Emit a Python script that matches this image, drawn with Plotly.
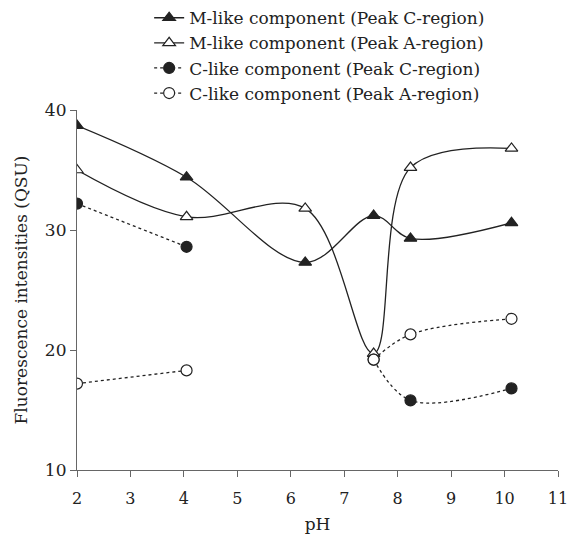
import plotly.graph_objects as go

# pH values of the sampled points
ph = [2.0, 4.05, 6.27, 7.55, 8.24, 10.13]

# Fluorescence intensities (QSU)
m_like_peak_c = [38.7, 34.4, 27.3, 31.2, 29.3, 30.6]
m_like_peak_a = [35.0, 31.1, 31.8, 19.7, 35.2, 36.8]
c_like_peak_c = [32.2, 28.6, None, 19.2, 15.8, 16.8]
c_like_peak_a = [17.2, 18.3, None, 19.2, 21.3, 22.6]

names = [
    "M-like component (Peak C-region)",
    "M-like component (Peak A-region)",
    "C-like component (Peak C-region)",
    "C-like component (Peak A-region)",
]

ink = "#222222"
axis_grey = "#666666"
font_family = "DejaVu Serif"

series = [
    (m_like_peak_c, "triangle-up", ink, "solid"),
    (m_like_peak_a, "triangle-up", "white", "solid"),
    (c_like_peak_c, "circle", ink, "dot"),
    (c_like_peak_a, "circle", "white", "dot"),
]

fig = go.Figure()
for (vals, sym, fill, dash), name in zip(series, names):
    fig.add_trace(go.Scatter(
        x=ph, y=vals, name=name, mode="lines+markers",
        line=dict(color=ink, width=1.3, dash=dash, shape="spline", smoothing=1.0),
        marker=dict(symbol=sym, size=11, color=fill,
                    line=dict(color=ink, width=1.2)),
        connectgaps=False,
    ))

fig.update_layout(
    width=570, height=542,
    margin=dict(l=77, r=12, t=110, b=72, autoexpand=False),
    paper_bgcolor="white", plot_bgcolor="white",
    font=dict(family=font_family, size=17, color=ink),
    showlegend=True,
    legend=dict(
        x=0.15, y=1.305, xanchor="left", yanchor="top",
        bgcolor="rgba(0,0,0,0)", font=dict(family=font_family, size=17),
        tracegroupgap=0, itemwidth=30,
    ),
    xaxis=dict(
        range=[2, 11], tickmode="array", tickvals=list(range(2, 12)),
        showline=True, linecolor=axis_grey, linewidth=1.2,
        ticks="outside", ticklen=6, tickcolor=axis_grey,
        showgrid=False, zeroline=False, automargin=False,
        ticklabeloverflow="allow", ticklabelstandoff=8,
        tickfont=dict(family=font_family, size=16),
        title=dict(text="pH", standoff=10, font=dict(family=font_family, size=17)),
    ),
    yaxis=dict(
        range=[10, 40], tickmode="array", tickvals=[10, 20, 30, 40],
        showline=True, linecolor=axis_grey, linewidth=1.2,
        ticks="outside", ticklen=6, tickcolor=axis_grey,
        showgrid=False, zeroline=False, automargin=False,
        ticklabeloverflow="allow",
        tickfont=dict(family=font_family, size=17),
        title=dict(text="Fluorescence intensities (QSU)", standoff=12,
                   font=dict(family=font_family, size=17)),
    ),
)

fig.write_html("out.html")
